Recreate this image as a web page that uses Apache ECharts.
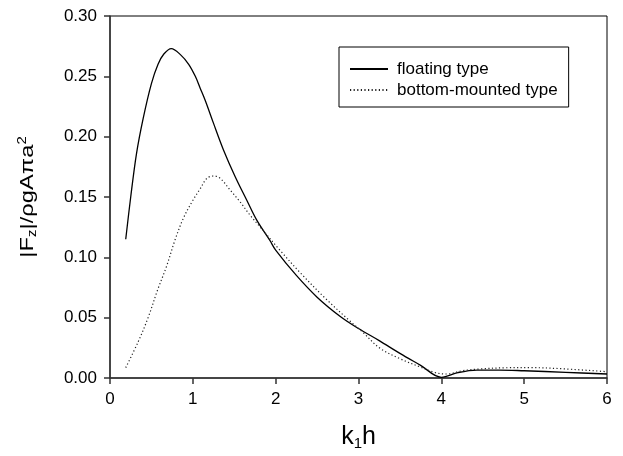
<!DOCTYPE html>
<html>
<head>
<meta charset="utf-8">
<script src="https://cdn.jsdelivr.net/npm/echarts@6/dist/echarts.min.js"></script>
<style>html,body{margin:0;padding:0;background:#fff;}#c{width:623px;height:456px;}</style>
</head>
<body>
<div id="c"></div>
<script>
const xTicks = [0, 1, 2, 3, 4, 5, 6];
const yTicks = [0.00, 0.05, 0.10, 0.15, 0.20, 0.25, 0.30];
const seriesNames = ['floating type', 'bottom-mounted type'];

const kFloating = [0.19, 0.25, 0.32, 0.40, 0.50, 0.58, 0.65, 0.74, 0.85, 0.95, 1.03, 1.09, 1.15, 1.25, 1.37, 1.51, 1.65, 1.77, 1.93, 2.0, 2.25, 2.5, 2.78, 3.0, 3.25, 3.5, 3.75, 4.0, 4.2, 4.43, 4.7, 5.0, 5.5, 6.0];
const fzFloating = [0.115, 0.150, 0.186, 0.215, 0.244, 0.260, 0.2685, 0.273, 0.268, 0.260, 0.250, 0.240, 0.230, 0.211, 0.189, 0.167, 0.1475, 0.131, 0.114, 0.106, 0.085, 0.067, 0.051, 0.041, 0.031, 0.0204, 0.0105, 0.0006, 0.0045, 0.0066, 0.0066, 0.0060, 0.0047, 0.0033];

const kBottom = [0.19, 0.34, 0.46, 0.58, 0.68, 0.785, 0.885, 0.99, 1.09, 1.17, 1.25, 1.33, 1.45, 1.57, 1.69, 1.81, 2.05, 2.3, 2.6, 2.9, 3.05, 3.26, 3.5, 3.75, 3.93, 4.07, 4.25, 4.47, 4.8, 5.07, 5.5, 6.0];
const fzBottom = [0.0086, 0.030, 0.050, 0.074, 0.092, 0.1144, 0.1323, 0.146, 0.157, 0.1655, 0.1674, 0.1655, 0.1558, 0.146, 0.135, 0.1254, 0.106, 0.087, 0.066, 0.047, 0.038, 0.0246, 0.016, 0.009, 0.0044, 0.0033, 0.0060, 0.0075, 0.0085, 0.0086, 0.0075, 0.0052];

const pairs = (xs, ys) => xs.map((x, i) => [x, ys[i]]);

const chart = echarts.init(document.getElementById('c'), null, {renderer: 'canvas'});
const font = 'Liberation Sans, Arial, sans-serif';
chart.setOption({
  animation: false,
  backgroundColor: '#fff',
  grid: {left: 110, right: 16, top: 16, bottom: 78, show: true, borderColor: '#000', borderWidth: 1},
  legend: {
    orient: 'vertical', left: 339, top: 47,
    borderColor: '#000', borderWidth: 1,
    padding: [12, 11, 7, 10],
    itemWidth: 38, itemHeight: 10, itemGap: 1,
    itemStyle: {color: 'rgba(0,0,0,0)', borderWidth: 0, opacity: 0},
    textStyle: {fontFamily: font, fontSize: 17, color: '#000', lineHeight: 20, padding: [0, 0, 0, 4]},
    data: seriesNames.map(n => ({name: n}))
  },
  graphic: [{
    type: 'text', x: 28, y: 197, rotation: Math.PI / 2, scaleX: 1.25, scaleY: 1,
    style: {
      text: '{t||F}{s|z}{t||/ρgAπa}{p|2}', align: 'center', verticalAlign: 'middle',
      rich: {
        t: {fontFamily: font, fontSize: 19, fill: '#000'},
        s: {fontFamily: font, fontSize: 12, fill: '#000', verticalAlign: 'bottom', padding: [10, 0, 0, 0]},
        p: {fontFamily: font, fontSize: 12, fill: '#000', verticalAlign: 'top', padding: [0, 0, 10, 0]}
      }
    }
  }],
  xAxis: {
    type: 'value', min: xTicks[0], max: xTicks[xTicks.length - 1], interval: 1,
    name: '{k|k}{s|1}{k|h}', nameLocation: 'middle', nameGap: 46,
    nameTextStyle: {rich: {k: {fontFamily: font, fontSize: 25, color: '#000'}, s: {fontFamily: font, fontSize: 15, color: '#000', verticalAlign: 'bottom', padding: [12, 0, 0, 0]}}},
    axisLine: {lineStyle: {color: '#333', width: 1.5}},
    axisTick: {show: true, length: 6, lineStyle: {color: '#333', width: 1.5}},
    axisLabel: {fontFamily: font, fontSize: 17, color: '#000', margin: 13},
    splitLine: {show: false}
  },
  yAxis: {
    type: 'value', min: yTicks[0], max: yTicks[yTicks.length - 1], interval: 0.05,
    axisLine: {show: true, lineStyle: {color: '#333', width: 1.5}},
    axisTick: {show: true, length: 6, lineStyle: {color: '#333', width: 1.5}},
    axisLabel: {fontFamily: font, fontSize: 17, color: '#000', margin: 13, formatter: v => v.toFixed(2)},
    splitLine: {show: false}
  },
  series: [
    {name: seriesNames[0], type: 'line', data: pairs(kFloating, fzFloating), smooth: 0.35, symbol: 'none',
     lineStyle: {color: '#000', width: 1.3, type: 'solid'}},
    {name: seriesNames[1], type: 'line', data: pairs(kBottom, fzBottom), smooth: 0.35, symbol: 'none',
     lineStyle: {color: '#222', width: 1.2, type: [1.2, 2.4]}}
  ]
});
</script>
</body>
</html>
